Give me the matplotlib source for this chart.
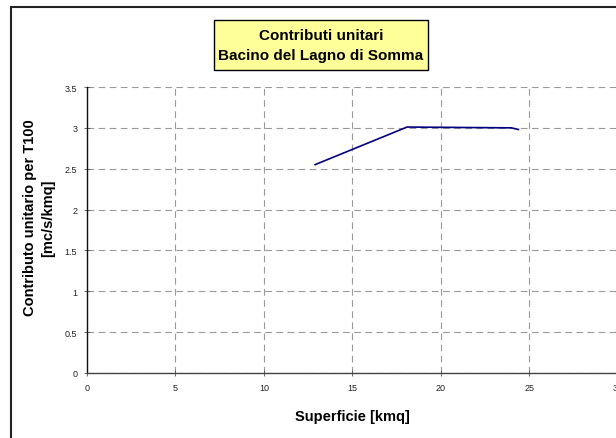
import matplotlib
matplotlib.use("Agg")
import matplotlib.pyplot as plt
from matplotlib.patches import Rectangle

plt.rcParams['font.family'] = ['Liberation Sans', 'DejaVu Sans']

# dati
superficie = [12.9, 18.1, 24.0, 24.4]
contributo = [2.55, 3.01, 3.0, 2.98]
x_ticks = [0, 5, 10, 15, 20, 25, 30]
y_ticks = [0, 0.5, 1, 1.5, 2, 2.5, 3, 3.5]
y_labels = ['0', '0.5', '1', '1.5', '2', '2.5', '3', '3.5']

W, H = 616, 439
fig = plt.figure(figsize=(W / 100, H / 100), dpi=100)
fig.patch.set_facecolor('white')

# cornice esterna (tagliata a destra e in basso)
fig.patches.append(Rectangle((11 / W, -0.1), 1.2, 1.1 - 8 / H, transform=fig.transFigure,
                             fill=False, edgecolor='#222222', linewidth=1.5))

ax = fig.add_axes([87 / W, 65 / H, (617.5 - 87) / W, (374 - 88) / H])
ax.plot(superficie, contributo, color='#000080', linewidth=1.2)

ax.set_xlim(0, 30)
ax.set_ylim(0, 3.5)
ax.set_xticks(x_ticks)
ax.set_yticks(y_ticks)
ax.set_yticklabels(y_labels)
ax.tick_params(labelsize=6.5, direction='inout', length=4, width=0.6, colors='#555555',
               labelcolor='#222222', pad=5)
ax.grid(True, linestyle=(0, (6, 4)), color='#999999', linewidth=0.8)
ax.set_axisbelow(True)

for s in ['top', 'right']:
    ax.spines[s].set_visible(False)
ax.spines['left'].set_color('#111111')
ax.spines['bottom'].set_color('#444444')
ax.spines['left'].set_linewidth(1.0)
ax.spines['bottom'].set_linewidth(1.0)

fig.text(352 / W, 1 - 417 / H, 'Superficie [kmq]', ha='center', va='center',
         fontsize=10.5, fontweight='bold')
fig.text(39 / W, 1 - 218 / H, 'Contributo unitario per T100\n[mc/s/kmq]', ha='center',
         va='center', rotation=90, fontsize=10.5, fontweight='bold', linespacing=1.45)

# riquadro del titolo
fig.patches.append(Rectangle((214 / W, 1 - 70.5 / H), 214 / W, 49.5 / H, transform=fig.transFigure,
                             facecolor='#FFFF99', edgecolor='black', linewidth=1.0))
fig.text(321 / W, 1 - 46 / H, 'Contributi unitari\nBacino del Lagno di Somma',
         ha='center', va='center', fontsize=11, fontweight='bold', linespacing=1.5)

fig.savefig('out.png', dpi=100)
